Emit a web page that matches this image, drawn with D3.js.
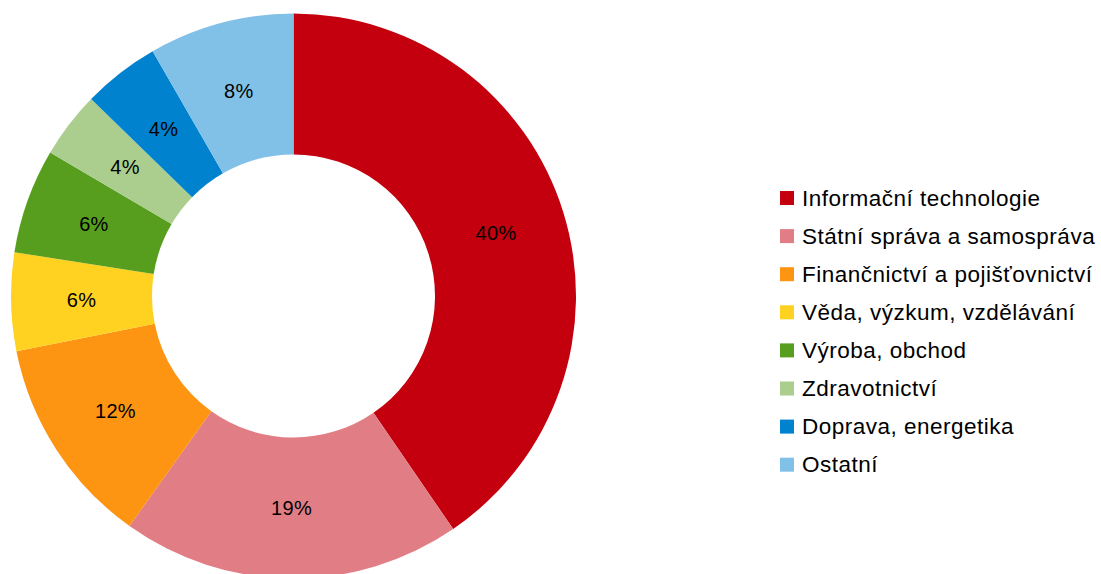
<!DOCTYPE html>
<html>
<head>
<meta charset="utf-8">
<script src="https://cdn.jsdelivr.net/npm/d3@7"></script>
<style>
  html, body { margin: 0; padding: 0; background: #fff; }
  svg { display: block; font-family: "Liberation Sans", Arial, sans-serif; }
</style>
</head>
<body>
<svg id="chart" width="1101" height="574"></svg>
<script>
const categories = [
  "Informační technologie",
  "Státní správa a samospráva",
  "Finančnictví a pojišťovnictví",
  "Věda, výzkum, vzdělávání",
  "Výroba, obchod",
  "Zdravotnictví",
  "Doprava, energetika",
  "Ostatní"
];
const values = [40.4, 19.4, 12.0, 5.6, 6.0, 3.8, 4.4, 8.3];
const colors = ["#C4000E", "#E17E85", "#FD9412", "#FFD221", "#579E1F", "#ABCE8E", "#0082CF", "#82C1E7"];

const svg = d3.select("#chart");
const cx = 293.5, cy = 296, outerR = 282.5, innerR = 141.5;

const data = categories.map((c, i) => ({ name: c, value: values[i], color: colors[i] }));
const pie = d3.pie().value(d => d.value).sort(null);
const arc = d3.arc().innerRadius(innerR).outerRadius(outerR);

const g = svg.append("g").attr("transform", `translate(${cx},${cy})`);
const arcs = pie(data);

g.selectAll("path.slice")
  .data(arcs)
  .join("path")
  .attr("class", "slice")
  .attr("d", arc)
  .attr("fill", d => d.data.color);

g.selectAll("text.lbl")
  .data(arcs)
  .join("text")
  .attr("class", "lbl")
  .attr("transform", d => `translate(${arc.centroid(d)})`)
  .attr("text-anchor", "middle")
  .attr("dominant-baseline", "central")
  .attr("font-size", 20)
  .attr("letter-spacing", 0.3)
  .attr("fill", "#000")
  .text(d => Math.round(d.data.value) + "%");

const legend = svg.append("g").attr("transform", "translate(780,198)");
const rowH = 38.1;
const items = legend.selectAll("g.item")
  .data(data)
  .join("g")
  .attr("class", "item")
  .attr("transform", (d, i) => `translate(0,${i * rowH})`);

items.append("rect")
  .attr("x", 0).attr("y", -7)
  .attr("width", 14).attr("height", 14)
  .attr("fill", d => d.color);

items.append("text")
  .attr("x", 22)
  .attr("y", 0)
  .attr("dominant-baseline", "central")
  .attr("font-size", 22.5)
  .attr("letter-spacing", 0.5)
  .attr("fill", "#000")
  .text(d => d.name);
</script>
</body>
</html>
